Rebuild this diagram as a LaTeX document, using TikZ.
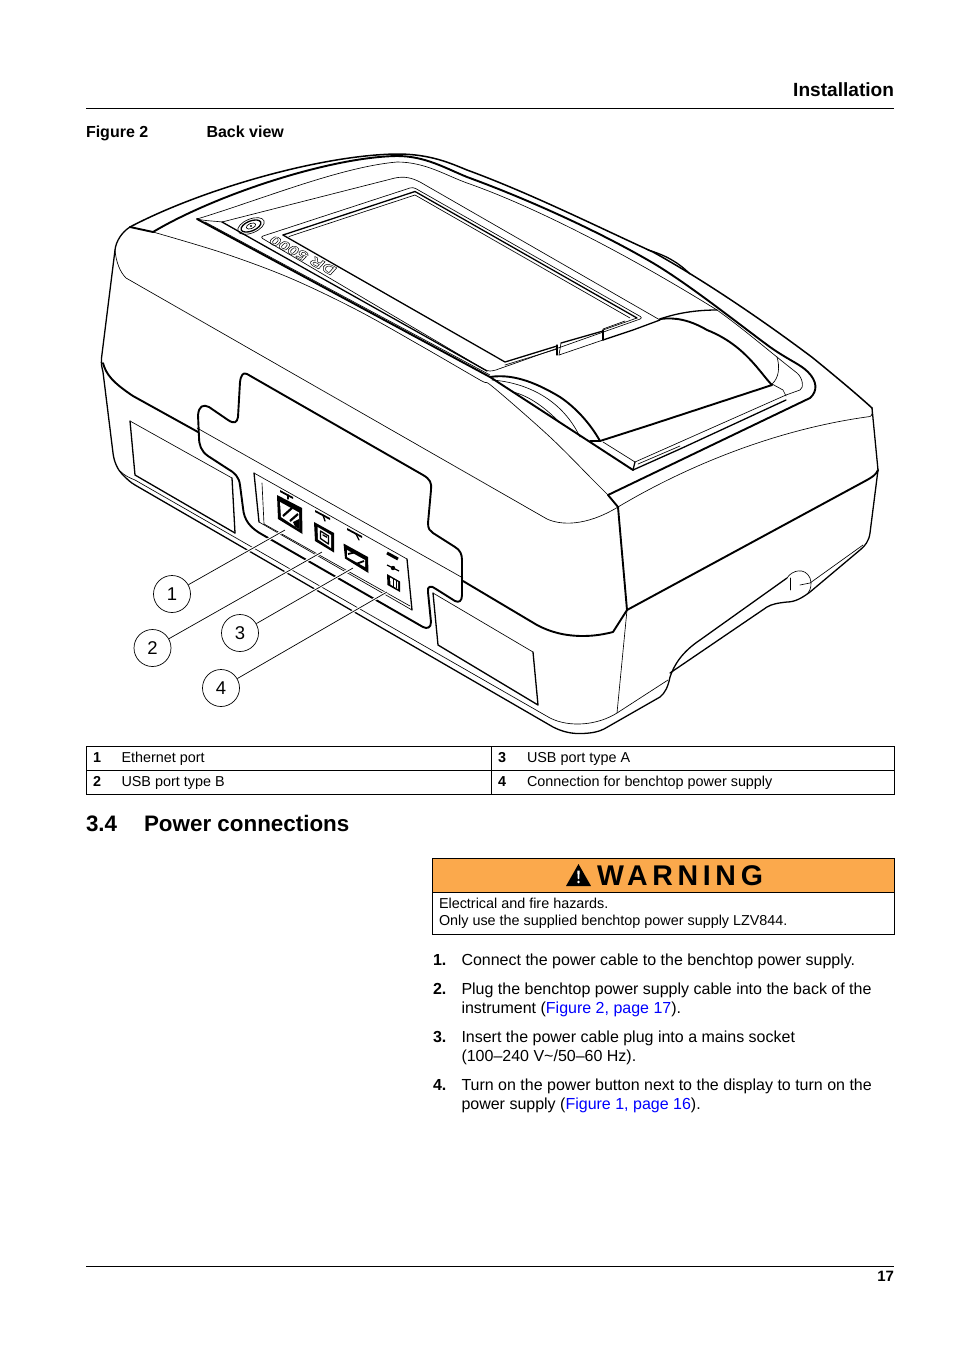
\documentclass[tikz,border=0pt]{standalone}
\usepackage{fontspec}
\usepackage{graphicx}
\setmainfont{Liberation Sans}
\newfontfamily\warnfont[LetterSpace=16.5]{Liberation Sans}
\definecolor{warnorange}{HTML}{FBA94C}
\definecolor{linkblue}{HTML}{0000FF}
\tikzset{
 devA/.style={line width=1.9pt,line cap=round,line join=round},
 devB/.style={line width=1.3pt,line cap=round,line join=round},
 devC/.style={line width=0.65pt,line cap=round,line join=round},
 txt/.style={anchor=base west,inner sep=0pt,outer sep=0pt,align=left},
 body/.style={txt,font=\fontsize{16}{19}\selectfont},
 bodyb/.style={txt,font=\fontsize{16}{19}\selectfont\bfseries},
 small/.style={txt,font=\fontsize{14.38}{17}\selectfont},
 smallb/.style={txt,font=\fontsize{14.38}{17}\selectfont\bfseries},
 rule/.style={line width=0.75pt},
 callout/.style={circle,draw,line width=0.7pt,minimum size=37pt,inner sep=0pt,font=\fontsize{18.5}{18.5}\selectfont},
 leader/.style={line width=0.7pt},
 halo/.style={white,line width=3pt,shorten <=1.5pt},
 link/.style={text=linkblue}
}
\newcommand{\sm}[2][]{\draw[#1] plot[smooth,tension=0.55] coordinates {#2};}
\begin{document}
\begin{tikzpicture}[x=1pt,y=-1pt]
\useasboundingbox (0,0) rectangle (954,1350);
\fill[white] (0,0) rectangle (954,1350);
% ---------- header
\node[txt,anchor=base east,font=\fontsize{19.1}{20}\selectfont\bfseries] (head) at (894,96) {Installation};
\draw[rule] (86,108.5) -- (894,108.5);
\node[bodyb] (figno) at (86,137) {Figure 2};
\node[bodyb] (figtitle) at (206.5,137) {Back view};
% ---------- instrument: outer shell
\draw[devB,line width=1.5pt] (130,227) .. controls (200,190) and (320,155) .. (397,154) .. controls (430,154) and (450,163) .. (467,170) .. controls (530,193) and (600,228) .. (653,252) .. controls (700,278) and (760,318) .. (813,358) .. controls (840,380) and (860,397) .. (872,408);
\draw[devB] (648,250) .. controls (665,255) and (678,262) .. (690,274);
\draw[devA] (153,232) .. controls (215,195) and (330,157) .. (397,156) .. controls (425,156) and (445,168) .. (467,177) .. controls (530,200) and (600,232) .. (653,263) .. controls (690,285) and (740,325) .. (770,347) .. controls (790,361) and (800,364) .. (808,372) .. controls (817,381) and (818,391) .. (810,398) -- (608,495);
\draw[devA] (130,227) -- (153,232);
\draw[devC] (197,219) .. controls (260,200) and (340,167) .. (397,162) .. controls (425,162) and (445,175) .. (467,183) .. controls (530,205) and (620,250) .. (717,310) .. controls (745,330) and (770,352) .. (797,373) .. controls (803,378) and (804,388) .. (800,390) -- (786,395);
\draw[devC] (222,222) -- (395,178) .. controls (405,176) and (412,178) .. (420,182) -- (660,320);
% left side
\draw[devB] (130,227) .. controls (122,232) and (116,241) .. (115,250) -- (101.5,358) .. controls (101,365) and (102,368) .. (103,372) -- (113,453) .. controls (114,462) and (118,470) .. (122,474) .. controls (128,480) and (130,482) .. (135,485) -- (553,727) .. controls (563,732) and (572,734) .. (583,733.5) .. controls (592,733) and (598,732) .. (604,729) -- (660,697) .. controls (665,693) and (668,687) .. (670,677) .. controls (674,665) and (682,652) .. (700,640) -- (787,578);
\draw[devC] (115,250) .. controls (116,262) and (120,272) .. (126,278) -- (547,519) .. controls (560,525) and (585,527) .. (618,507);
\sm[devC]{(153,232)(223,253)(290,278)(357,310)(423,347)(480,380)(493,387)(550,437)(593,480)(608,495)}
% seam
\draw[devA] (103,363) .. controls (106,374) and (112,382) .. (133,396) -- (198,432);
\draw[devC] (197,428) -- (463,578);
\draw[devA] (463,581) -- (537,625) .. controls (550,632) and (565,636) .. (583,636) .. controls (595,636) and (605,634) .. (613,632) -- (627,610);
\draw[devA] (608,495) -- (618,507) -- (627,610) -- (867,480) .. controls (872,477) and (876,475) .. (878,470);
\draw[devB] (872,408) -- (878,470) -- (870,533) .. controls (869,541) and (865,546) .. (860,550) -- (810,592) .. controls (802,598) and (795,602) .. (787,602) .. controls (778,603) and (772,604) .. (767,607) -- (670,673);
\draw[devC] (627,610) -- (617,713);
\draw[devC] (618,507) .. controls (680,470) and (770,430) .. (870,416.5) .. controls (872,416) and (873,412) .. (872,408);
% lower thin band
\draw[devC] (120,471) .. controls (125,476) and (130,478) .. (135,480) -- (550,718) .. controls (570,728) and (598,725) .. (617,713) -- (668,680);
% right notch
\draw[devC] (787,578) .. controls (792,570) and (805,567) .. (810,578) .. controls (812,584) and (811,589) .. (808,593);
\draw[devC] (790,578) -- (790,590);
\draw[devC] (800,585) -- (810,583) -- (863,545);
% ---------- tray and bezel
\draw[devA] (197,219) -- (490,377) -- (590,442) -- (633,470);
\draw[devC] (205,222) -- (490,375);
\draw[devC] (197,219) .. controls (205,221) and (215,221) .. (222,222);
\draw[devB] (222,222) -- (487,371);
\draw[devB] (633,470) -- (635,462);
\draw[devB] (633,470) -- (680,449) -- (786,400);
\draw[devC] (603,442) -- (635,462) -- (786,395);
\draw[devC] (638,464) -- (680,446);
% lid
\draw[devA] (650,425) -- (772,385) .. controls (760,373) and (745,345) .. (707,330) .. controls (690,320) and (675,317) .. (660,319);
\draw[devA] (600,441) -- (650,425);
\draw[devA] (490,377) .. controls (515,373) and (540,385) .. (560,397) .. controls (575,407) and (590,423) .. (600,441);
\draw[devB] (600,441) -- (590,441);
\draw[devB] (603,340) -- (633,330) -- (660,320);
\draw[devB] (660,319) .. controls (680,312) and (700,310) .. (717,310);
\draw[devC] (772,384) .. controls (779,378) and (780,367) .. (777,357);
\draw[devC] (772,384) -- (783,390) -- (786,396);
\draw[devC] (492,380) .. controls (520,382) and (560,395) .. (580,437);
\draw[devC] (513,392) .. controls (530,396) and (548,410) .. (560,423);
% screen frame
\draw[devC,rounded corners=3pt] (487,371) -- (260,237) -- (413,187) -- (643,318) -- (493,371) -- cycle;
\draw[devB] (283,235) -- (415,191.5) -- (637,318);
\draw[devC] (637,318) -- (603,330);
\draw[devB] (283,235) -- (505,362) -- (557,346);
\draw[devC] (289,236.5) -- (415,195) -- (630,318);
\draw[devB] (603,330) -- (603,340);
\draw[devB] (557,345) -- (557,355);
\draw[devC] (561,343) -- (559,355);
\draw[devB] (561,343) -- (603,331);
\draw[devC] (559,355) -- (603,340);
\draw[devC] (505,365) -- (557,349);
\draw[devC] (625,321) -- (603,329);
% power button
\draw[devC,rotate around={22:(251,226)}] (251,226) ellipse (14pt and 7pt);
\draw[devB,rotate around={22:(251,226)}] (251,226) ellipse (10.5pt and 5pt);
\draw[devC,rotate around={22:(251,226)}] (251,226) ellipse (5pt and 2.6pt);
\fill (251,226) circle (1.1pt);
% logo
\node[inner sep=0pt,rotate=152.5,font=\fontsize{13.5}{13.5}\selectfont\bfseries\itshape] (logo) at (303,255.5) {\scalebox{1.35}[1]{\special{pdf:code 1 Tr 0.4 w}DR 5000\special{pdf:code 0 Tr}}};
% ---------- panel
\draw[devA] (247,374) -- (423,475) .. controls (430,479) and (432,483) .. (431,490) -- (428,523) .. controls (428,529) and (430,531) .. (433,533) -- (455,547) .. controls (460,550) and (462,554) .. (462,560) -- (462,595) .. controls (462,601) and (459,603) .. (455,601) -- (436,589) .. controls (431,585) and (427,586) .. (428,592) -- (431,622) .. controls (431,628) and (427,629) .. (423,627) -- (263,535) .. controls (250,528) and (244,520) .. (243,508) -- (240,485) .. controls (239,477) and (235,473) .. (228,469) -- (208,456) .. controls (201,451) and (199,445) .. (199,437) -- (198,415) .. controls (199,406) and (203,404) .. (209,407) -- (228,420) .. controls (234,424) and (237,423) .. (238,417) -- (240,382) .. controls (241,375) and (243,372) .. (247,374) -- cycle;
% recessed rectangles
\draw[devC] (130,421) -- (232,478);
\draw[devB] (130,421) -- (135,475) -- (235,533);
\draw[devB] (232,478) -- (235,533);
\draw[devC] (433,593) -- (533,652);
\draw[devB] (433,593) -- (438,645) -- (538,705) -- (533,652);
% port recess
\draw[devC] (254,473) -- (407,559);
\draw[devB] (254,473) -- (259,522);
\draw[devB] (407,559) -- (412,610);
\draw[devC] (262,483) -- (264,524) -- (410,606);
\draw[devC] (259,522) -- (412,610);
% port 1 (Ethernet)
\fill (277,495) -- (302,508) -- (302.5,534) -- (278,519) -- cycle;
\fill[white] (280,502) -- (299,512.5) -- (299,529) -- (281,517) -- cycle;
\draw[line width=2.2pt] (283,516) -- (292,508) (290,521) -- (298,514);
\fill (293,522) -- (299,519) -- (299,529) -- (295,526.5) -- cycle;
\fill (280,490) -- (293,497) -- (293,499) -- (280,492) -- cycle;
\draw[devB] (288,495) -- (288,499);
% port 2 (USB B)
\fill (314,522) -- (334,533) -- (334,552.5) -- (315,541) -- cycle;
\fill[white] (317.5,527) -- (331,535) -- (331,548) -- (318,539.5) -- cycle;
\draw[devB] (320.5,531) -- (328.5,536) -- (328.5,544) -- (320.5,538.5) -- cycle;
\fill (322.5,534) -- (327,536.5) -- (327,538) -- (322.5,535.5) -- cycle;
\fill (315,510) -- (330,518) -- (330,520) -- (315,512) -- cycle;
\draw[devB] (323,515) -- (325,521);
% port 3 (USB A)
\fill (343.5,543.5) -- (368,557) -- (368.5,573) -- (345,558.5) -- cycle;
\fill[white] (347,550) -- (365,560) -- (365,567) -- (347,557) -- cycle;
\draw[line width=1.8pt] (348,554) -- (354,552.5) (356,564) -- (364,561);
\fill (347,528) -- (362,536) -- (362,538) -- (347,530) -- cycle;
\draw[devB] (356,534) -- (359,540);
% port 4 (power)
\fill (387,574) -- (400,581.5) -- (400,592) -- (387.5,585) -- cycle;
\fill[white] (390,577.5) -- (398,582) -- (398,589) -- (390.5,584.5) -- cycle;
\draw[line width=1pt] (393.5,579) -- (393.5,587) (396,581) -- (396,588);
\draw[line width=3pt] (387,553) -- (398,559);
\draw[line width=1.2pt] (387,565) -- (399,571);
\fill (393,568) circle (2.2pt);
% ---------- callouts
\coordinate (p1) at (285,530);
\coordinate (p2) at (322,552);
\coordinate (p3) at (353,568);
\coordinate (p4) at (387,592);
\node[callout] (c1) at (172,594) {1};
\node[callout] (c2) at (152.5,648) {2};
\node[callout] (c3) at (240,633) {3};
\node[callout] (c4) at (221,688) {4};
\draw[halo] (c1) -- (p1);\draw[halo] (c2) -- (p2);\draw[halo] (c3) -- (p3);\draw[halo] (c4) -- (p4);
\draw[leader] (c1) -- (p1);\draw[leader] (c2) -- (p2);\draw[leader] (c3) -- (p3);\draw[leader] (c4) -- (p4);
% ---------- table
\draw[rule] (86.5,746.5) rectangle (894.5,794.5);
\draw[rule] (86.5,770.5) -- (894.5,770.5);
\draw[rule] (491.5,746.5) -- (491.5,794.5);
\node[smallb] (t1n) at (93,762) {1};
\node[small] (t1) at (121.5,762) {Ethernet port};
\node[smallb] (t3n) at (498,762) {3};
\node[small] (t3) at (527,762) {USB port type A};
\node[smallb] (t2n) at (93,786) {2};
\node[small] (t2) at (121.5,786) {USB port type B};
\node[smallb] (t4n) at (498,786) {4};
\node[small] (t4) at (527,786) {Connection for benchtop power supply};
% ---------- section heading
\node[txt,font=\fontsize{22.4}{26}\selectfont\bfseries] (secno) at (86,831.5) {3.4};
\node[txt,font=\fontsize{22.4}{26}\selectfont\bfseries] (sec) at (144,831.5) {Power connections};
% ---------- warning
\fill[warnorange] (432.5,858.5) rectangle (894.5,892.5);
\draw[rule] (432.5,858.5) rectangle (894.5,934.5);
\draw[rule] (432.5,892.5) -- (894.5,892.5);
\fill (578.5,864) -- (591,886) -- (566,886) -- cycle;
\fill[white] (577.3,870.5) -- (579.7,870.5) -- (579.2,879) -- (577.8,879) -- cycle;
\fill[white] (578.5,882) circle (1.3pt);
\node[txt,font=\warnfont\fontsize{28.5}{30}\selectfont\bfseries] (warn) at (597,885) {WARNING};
\node[small] (w1) at (439,908) {Electrical and fire hazards.};
\node[small] (w2) at (439,925) {Only use the supplied benchtop power supply LZV844.};
% ---------- list
\node[bodyb] (n1) at (433,965) {1.};
\node[body] (l1) at (461.5,965) {Connect the power cable to the benchtop power supply.};
\node[bodyb] (n2) at (433,994) {2.};
\node[body] (l2a) at (461.5,994) {Plug the benchtop power supply cable into the back of the};
\node[body] (l2b) at (461.5,1013) {instrument (\textcolor{linkblue}{Figure 2, page 17}).};
\node[bodyb] (n3) at (433,1042) {3.};
\node[body] (l3a) at (461.5,1042) {Insert the power cable plug into a mains socket};
\node[body] (l3b) at (461.5,1061) {(100–240 V\textasciitilde/50–60 Hz).};
\node[bodyb] (n4) at (433,1090) {4.};
\node[body] (l4a) at (461.5,1090) {Turn on the power button next to the display to turn on the};
\node[body] (l4b) at (461.5,1109) {power supply (\textcolor{linkblue}{Figure 1, page 16}).};
% ---------- footer
\draw[rule] (86,1266.5) -- (894,1266.5);
\node[txt,anchor=base east,font=\fontsize{15}{16}\selectfont\bfseries] (pageno) at (894,1281.5) {17};
\end{tikzpicture}
\end{document}
